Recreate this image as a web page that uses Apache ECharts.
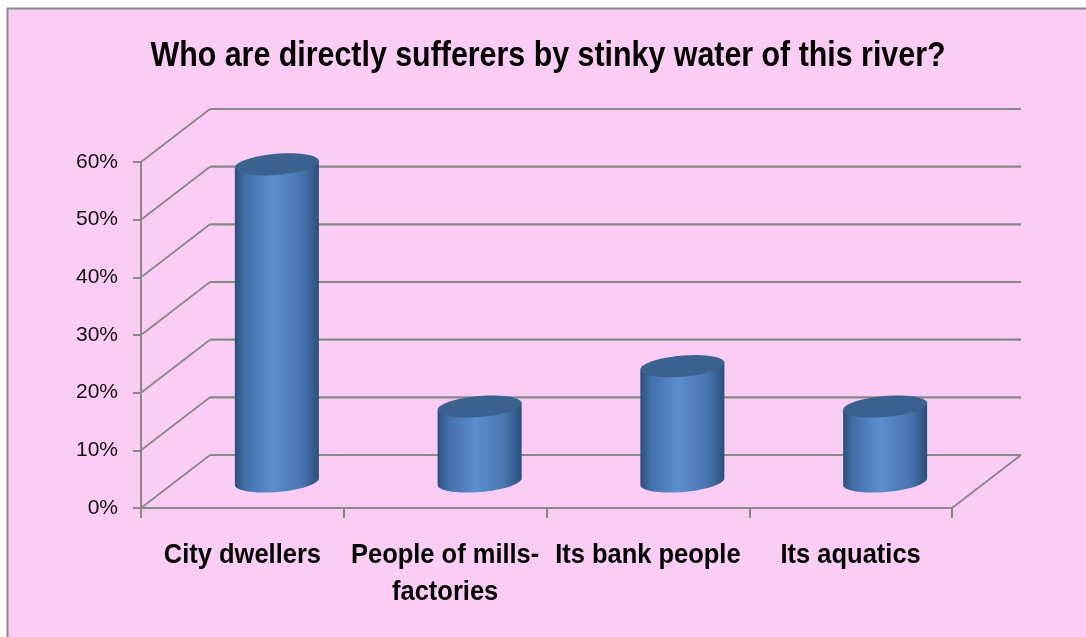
<!DOCTYPE html>
<html>
<head>
<meta charset="utf-8">
<script src="https://cdn.jsdelivr.net/npm/echarts@6/dist/echarts.min.js"></script>
<style>
  html, body { margin: 0; padding: 0; background: #ffffff; }
  #chart { width: 1086px; height: 637px; }
</style>
</head>
<body>
<div id="chart"></div>
<script>
// Survey answers: who suffers directly from the river's stinky water
const titleText = 'Who are directly sufferers by stinky water of this river?';
const categories = ['City dwellers', 'People of mills-factories', 'Its bank people', 'Its aquatics'];
const shares = [0.55, 0.13, 0.20, 0.13];
const yTicks = [0, 0.1, 0.2, 0.3, 0.4, 0.5, 0.6];

// 3D look: offset from the front plane to the back wall, in pixels
const DEPTH = [69, -53];
const GRID_COLOR = '#888888';

// Title and category names use a bold face squeezed horizontally
const TITLE_FONT = "bold 35px 'Liberation Sans', Arial, sans-serif";
const TITLE_WIDTH = 795;
const LABEL_FONT = "bold 28px 'Liberation Sans', Arial, sans-serif";
const LABEL_SCALE_X = 0.91;
const measureCtx = document.createElement('canvas').getContext('2d');
measureCtx.font = TITLE_FONT;
const titleScaleX = TITLE_WIDTH / measureCtx.measureText(titleText).width;

const chart = echarts.init(document.getElementById('chart'), null, { renderer: 'canvas' });

function ellipsePoint(cx, cy, rx, ry, rot, t) {
  const c = Math.cos(t), s = Math.sin(t);
  return [
    cx + rx * c * Math.cos(rot) - ry * s * Math.sin(rot),
    cy + rx * c * Math.sin(rot) + ry * s * Math.cos(rot)
  ];
}

function ellipseArc(cx, cy, rx, ry, rot, t0, t1, n) {
  const pts = [];
  for (let i = 0; i <= n; i++) {
    pts.push(ellipsePoint(cx, cy, rx, ry, rot, t0 + (t1 - t0) * i / n));
  }
  return pts;
}

// Side wall, back wall gridlines and floor edges
function renderFrame(params, api) {
  const cs = params.coordSys;
  const L = cs.x, R = cs.x + cs.width;
  const v = api.value(1);
  const y = api.coord([0, v])[1];
  const children = [
    { type: 'line', shape: { x1: L, y1: y, x2: L + DEPTH[0], y2: y + DEPTH[1] },
      style: { stroke: GRID_COLOR, lineWidth: 1.8 } },
    { type: 'line', shape: { x1: L + DEPTH[0], y1: y + DEPTH[1], x2: R + DEPTH[0], y2: y + DEPTH[1] },
      style: { stroke: GRID_COLOR, lineWidth: 2.2 } }
  ];
  if (v === 0) {
    children.push({ type: 'line', shape: { x1: R, y1: y, x2: R + DEPTH[0], y2: y + DEPTH[1] },
      style: { stroke: GRID_COLOR, lineWidth: 1.8 } });
  }
  return { type: 'group', children };
}

// Cylinder bars standing at mid-depth of the floor
function renderCylinder(params, api) {
  const idx = api.value(0);
  const val = api.value(1);
  const top = api.coord([idx, val]);
  const base = api.coord([idx, 0]);
  const band = api.size([1, 0])[0];
  const rx = band * 0.208;
  const ry = rx * 0.25;
  const rot = -0.085;
  const cx = top[0] + DEPTH[0] / 2;
  const topY = top[1] + DEPTH[1] / 2;
  const baseY = base[1] + DEPTH[1] / 2;

  const bottomArc = ellipseArc(cx, baseY, rx, ry, rot, Math.PI, 0, 40);
  const body = bottomArc.concat([
    ellipsePoint(cx, topY, rx, ry, rot, 0),
    ellipsePoint(cx, topY, rx, ry, rot, Math.PI)
  ]);
  const cap = ellipseArc(cx, topY, rx, ry, rot, 0, Math.PI * 2, 60);

  return {
    type: 'group',
    children: [
      { type: 'polygon', shape: { points: body },
        style: { fill: { type: 'linear', x: 0, y: 0, x2: 1, y2: 0, colorStops: [
          { offset: 0, color: '#2b4f7d' },
          { offset: 0.12, color: '#416fa9' },
          { offset: 0.45, color: '#5b8fd1' },
          { offset: 0.8, color: '#4875ae' },
          { offset: 1, color: '#2c4f7c' }
        ] } } },
      { type: 'polygon', shape: { points: cap },
        style: { fill: '#3b618e' } }
    ]
  };
}

// Category names under the floor, centred on each band
function renderCategoryLabel(params, api) {
  const idx = api.value(0);
  const p = api.coord([idx, 0]);
  const name = categories[idx].replace('-', '-\n');
  return {
    type: 'text',
    x: p[0],
    y: p[1] + 29,
    scaleX: LABEL_SCALE_X,
    style: {
      text: name,
      font: LABEL_FONT,
      fill: '#000000',
      textAlign: 'center',
      textVerticalAlign: 'top',
      lineHeight: 37
    }
  };
}

const option = {
  backgroundColor: '#ffffff',
  animation: false,
  graphic: [
    { type: 'rect', z: -10, shape: { x: 7.5, y: 8.5, width: 1200, height: 700 },
      style: { fill: '#fccdf4', stroke: '#8a8a8a', lineWidth: 2 } },
    { type: 'text', z: 10, x: 548, y: 56, scaleX: titleScaleX,
      style: { text: titleText, font: TITLE_FONT, fill: '#000000',
               textAlign: 'center', textVerticalAlign: 'middle' } }
  ],
  grid: { left: 141, right: 134, top: 162, bottom: 129, containLabel: false },
  xAxis: {
    type: 'category',
    data: categories,
    axisLine: { lineStyle: { color: GRID_COLOR, width: 2 } },
    axisTick: { show: true, length: 10, lineStyle: { color: GRID_COLOR, width: 2 } },
    axisLabel: { show: false },
    splitLine: { show: false }
  },
  yAxis: {
    type: 'value',
    min: 0,
    max: 0.6,
    interval: 0.1,
    axisLine: { show: true, lineStyle: { color: GRID_COLOR, width: 2 } },
    axisTick: { show: true, length: 8, lineStyle: { color: GRID_COLOR, width: 2 } },
    axisLabel: {
      margin: 23,
      color: '#111111',
      fontFamily: "'Liberation Sans', Arial, sans-serif",
      fontSize: 21,
      formatter: (v) => Math.round(v * 100) + '%'
    },
    splitLine: { show: false }
  },
  series: [
    {
      type: 'custom',
      name: 'frame',
      z: 1,
      silent: true,
      renderItem: renderFrame,
      data: yTicks.map((v) => [0, v])
    },
    {
      type: 'custom',
      name: 'share',
      z: 5,
      renderItem: renderCylinder,
      data: shares.map((v, i) => [i, v])
    },
    {
      type: 'custom',
      name: 'category names',
      z: 6,
      silent: true,
      renderItem: renderCategoryLabel,
      data: categories.map((c, i) => [i, 0])
    }
  ]
};

chart.setOption(option);
</script>
</body>
</html>
